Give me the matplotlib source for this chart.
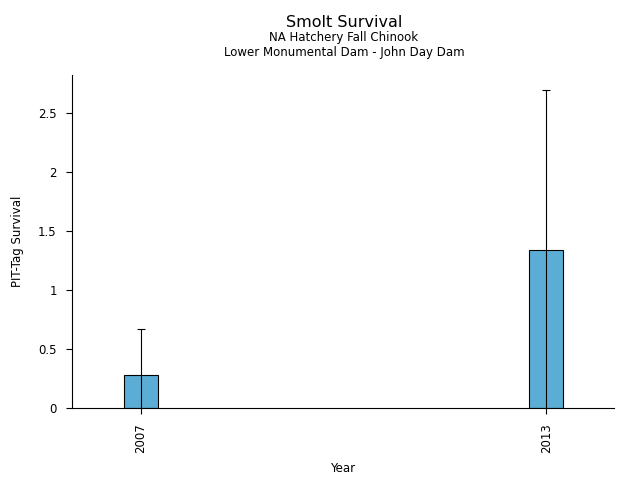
import matplotlib
matplotlib.use('Agg')
import matplotlib.pyplot as plt

# Dados
years = [2007, 2013]
survival = [0.28, 1.34]
err = [0.39, 1.35]
year_labels = ['2007', '2013']

fig = plt.figure(figsize=(6.4, 4.8), dpi=100)
ax = fig.add_axes([0.1125, 0.15, 0.8465, 0.694])

ax.bar(years, survival, width=0.5, color='#5badd6', edgecolor='black', linewidth=0.8,
       yerr=err, error_kw=dict(ecolor='black', elinewidth=0.8, capsize=3, capthick=0.8))

ax.set_xlim(2005.98, 2014.0)
ax.set_ylim(0, 2.82)
ax.set_xticks(years)
ax.set_xticklabels(year_labels, rotation=90, fontsize=8.5)
ax.set_yticks([0, 0.5, 1, 1.5, 2, 2.5])
ax.set_yticklabels(['0', '0.5', '1', '1.5', '2', '2.5'], fontsize=8.5)
ax.tick_params(axis='both', length=4.5, pad=6.5)
ax.spines['top'].set_visible(False)
ax.spines['right'].set_visible(False)

ax.set_xlabel('Year', fontsize=8.5, labelpad=6.5)
ax.set_ylabel('PIT-Tag Survival', fontsize=8.5, labelpad=10)

fig.text(0.5375, 0.953, 'Smolt Survival', ha='center', va='center', fontsize=11.5)
fig.text(0.5375, 0.921, 'NA Hatchery Fall Chinook', ha='center', va='center', fontsize=8.5)
fig.text(0.5375, 0.891, 'Lower Monumental Dam - John Day Dam', ha='center', va='center', fontsize=8.5)

plt.savefig('out.png', dpi=100)
